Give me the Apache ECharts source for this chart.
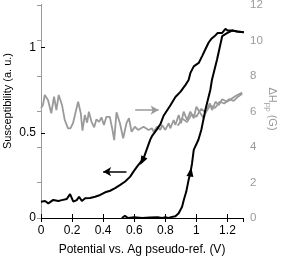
<!DOCTYPE html>
<html><head><meta charset="utf-8">
<script src="https://cdn.jsdelivr.net/npm/echarts@6/dist/echarts.min.js"></script>
<style>html,body{margin:0;padding:0;background:#fff}#c{width:283px;height:258px}</style>
</head><body><div id="c"></div>
<script>
// Susceptibility, forward (anodic) sweep: [potential V, susceptibility]
var forwardV = [0.52,0.54,0.56,0.60,0.65,0.70,0.75,0.78,0.80,0.82,0.85,0.865,0.886,0.908,0.919,0.935,0.950,0.961,0.972,0.983,1.013,1.032,1.058,1.09,1.10,1.133,1.166,1.20,1.23,1.263,1.305];
var forwardS = [0.0,0.012,0.0,0.005,0.0,0.003,0.005,0.0,0.004,0.0,0.008,0.01,0.028,0.066,0.106,0.155,0.224,0.263,0.32,0.40,0.459,0.518,0.635,0.753,0.81,0.93,1.067,1.086,1.10,1.094,1.09];
// Susceptibility, reverse sweep
var reverseV = [1.305,1.263,1.230,1.20,1.187,1.166,1.137,1.116,1.095,1.079,1.058,1.037,1.015,0.983,0.961,0.950,0.929,0.897,0.865,0.832,0.789,0.768,0.746,0.714,0.703,0.660,0.650,0.617,0.595,0.574,0.542,0.510,0.477,0.445,0.413,0.381,0.348,0.316,0.284,0.263,0.245,0.230,0.208,0.187,0.166,0.134,0.112,0.079,0.047,0.026,0.0];
var reverseS = [1.09,1.094,1.10,1.10,1.11,1.086,1.086,1.066,1.05,1.03,0.99,0.95,0.91,0.89,0.85,0.81,0.78,0.74,0.71,0.66,0.60,0.55,0.52,0.48,0.46,0.35,0.34,0.30,0.272,0.243,0.214,0.194,0.175,0.16,0.151,0.135,0.125,0.117,0.116,0.10,0.125,0.105,0.096,0.14,0.112,0.105,0.10,0.106,0.086,0.10,0.096];
// Linewidth ΔHpp (G), forward sweep
var hppV = [0.000,0.013,0.024,0.045,0.066,0.084,0.099,0.114,0.135,0.153,0.174,0.189,0.206,0.221,0.239,0.256,0.267,0.282,0.297,0.308,0.325,0.342,0.357,0.374,0.389,0.405,0.421,0.443,0.460,0.471,0.486,0.508,0.529,0.550,0.566,0.583,0.604,0.625,0.660,0.692,0.714,0.725,0.746,0.768,0.779,0.800,0.822,0.832,0.854,0.865,0.886,0.901,0.918,0.940,0.961,0.983,1.000,1.026,1.047,1.065,1.086,1.101,1.123,1.144,1.166,1.198,1.230,1.263,1.295];
var hppH = [6.2,6.37,6.93,6.65,5.9,6.83,6.08,6.93,6.37,5.52,5.05,5.05,5.34,5.9,6.55,5.9,4.92,5.8,5.37,5.99,5.42,5.11,5.56,5.42,5.67,5.24,5.7,5.7,4.96,4.39,5.95,5.34,4.49,5.34,5.62,4.86,5.14,4.96,5.14,4.96,5.05,4.86,5.14,4.96,5.24,4.96,5.34,5.05,5.52,5.24,5.8,5.34,5.99,5.52,5.99,5.62,6.27,5.9,5.62,6.08,6.46,6.08,6.55,6.36,6.69,6.55,6.74,6.93,7.06];
// ΔHpp, reverse sweep
var hppRevV = [1.295,1.27,1.24,1.21,1.18,1.15,1.12,1.09,1.06,1.03,1.00,0.97,0.94,0.91,0.88];
var hppRevH = [7.0,6.85,6.6,6.7,6.45,6.55,6.2,6.35,5.95,6.15,5.7,5.85,5.4,5.6,5.2];
// direction arrows [x, y] in data units
var blackArrow = [[0.55,0.272],[0.40,0.272]];
var grayArrow = [[0.606,6.08],[0.757,6.08]];
var fwdHead = [0.963,0.27];
var revHead = [0.652,0.335];
var xTicks = {min:0,max:1.3,interval:0.2};
var leftTitle = 'Susceptibility (a. u.)';
var rightTitle = 'ΔH{sub|pp} (G)';
var xTitle = 'Potential vs. Ag pseudo-ref. (V)';

function zip(a,b){return a.map(function(v,i){return [v,b[i]];});}
var FONT = '"Liberation Sans", Arial, sans-serif';
var GRAY = '#9a9a9a';
var chart = echarts.init(document.getElementById('c'));
chart.setOption({
  animation:false,
  backgroundColor:'#fff',
  grid:{left:41,right:40,top:5,bottom:40,containLabel:false,outerBoundsMode:'none'},
  graphic:[
    {type:'text',x:7.5,y:101,rotation:Math.PI/2,
      style:{text:leftTitle,font:'11px '+FONT,fill:'#000',textAlign:'center',textVerticalAlign:'middle'}},
    {type:'text',x:272,y:109,rotation:-Math.PI/2,
      style:{text:rightTitle,fontFamily:FONT,fontSize:11,fill:GRAY,align:'center',verticalAlign:'middle',
        rich:{sub:{fontFamily:FONT,fontSize:8,fill:GRAY,padding:[7,0,0,0]}}}}
  ],
  xAxis:[{
    type:'value',min:xTicks.min,max:xTicks.max,interval:xTicks.interval,position:'bottom',
    name:xTitle,nameLocation:'middle',nameGap:26,
    nameTextStyle:{fontFamily:FONT,fontSize:12,color:'#000'},
    axisLine:{show:true,lineStyle:{color:'#000',width:1}},
    axisTick:{show:true,inside:true,length:4,lineStyle:{color:'#000'}},
    axisLabel:{fontFamily:FONT,fontSize:12,color:'#000',margin:7,showMaxLabel:false,
      formatter:function(v){return String(Math.round(v*10)/10);}},
    splitLine:{show:false}
  },{
    type:'value',min:xTicks.min,max:xTicks.max,interval:xTicks.interval,position:'top',
    axisLine:{show:true,lineStyle:{color:'#000',width:1}},
    axisTick:{show:true,inside:true,length:4,lineStyle:{color:'#000'}},
    axisLabel:{show:false},splitLine:{show:false}
  }],
  yAxis:[{
    type:'value',min:0,max:1.25,interval:0.5,position:'left',
    axisLine:{show:true,lineStyle:{color:'#000',width:1}},
    axisTick:{show:true,inside:true,length:4,lineStyle:{color:'#000'}},
    axisLabel:{fontFamily:FONT,fontSize:12,color:'#000',margin:5,showMaxLabel:false},
    splitLine:{show:false}
  },{
    type:'value',min:0,max:12,interval:2,position:'right',
    axisLine:{show:true,lineStyle:{color:GRAY,width:1}},
    axisTick:{show:true,inside:true,length:4,lineStyle:{color:GRAY}},
    axisLabel:{fontFamily:FONT,fontSize:11.5,color:GRAY,margin:7},
    splitLine:{show:false}
  }],
  series:[
    {type:'line',xAxisIndex:0,yAxisIndex:1,data:zip(hppV,hppH),showSymbol:false,
      lineStyle:{color:GRAY,width:1.8},z:2,
      markLine:{silent:true,symbol:['none','arrow'],symbolSize:[7,8],label:{show:false},
        lineStyle:{color:GRAY,width:1.5,type:'solid'},
        data:[[{coord:grayArrow[0]},{coord:grayArrow[1]}]]}},
    {type:'line',xAxisIndex:0,yAxisIndex:1,data:zip(hppRevV,hppRevH),showSymbol:false,
      lineStyle:{color:GRAY,width:1.8},z:2},
    {type:'line',xAxisIndex:0,yAxisIndex:0,data:zip(reverseV,reverseS),showSymbol:false,
      lineStyle:{color:'#000',width:2},z:3,
      markLine:{silent:true,symbol:['none','arrow'],symbolSize:[7,8],label:{show:false},
        lineStyle:{color:'#000',width:1.5,type:'solid'},
        data:[[{coord:blackArrow[0]},{coord:blackArrow[1]}]]},
      markPoint:{silent:true,symbol:'triangle',symbolSize:[7,9],symbolRotate:153,
        itemStyle:{color:'#000'},label:{show:false},data:[{coord:revHead}]}},
    {type:'line',xAxisIndex:0,yAxisIndex:0,data:zip(forwardV,forwardS),showSymbol:false,
      lineStyle:{color:'#000',width:2},z:3,
      markPoint:{silent:true,symbol:'triangle',symbolSize:[7,9],symbolRotate:-9,
        itemStyle:{color:'#000'},label:{show:false},data:[{coord:fwdHead}]}}
  ]
});
</script></body></html>
